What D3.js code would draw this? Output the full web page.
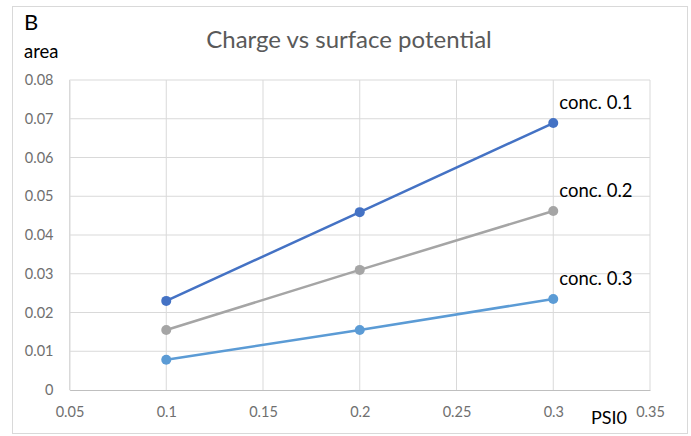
<!DOCTYPE html>
<html><head><meta charset="utf-8">
<script src="https://cdn.jsdelivr.net/npm/d3@7"></script>
<style>body{margin:0;background:#fff}svg{display:block}text{font-family:Lato,"Open Sans",sans-serif}</style>
</head><body>
<script>
const xValues = [0.1, 0.2, 0.3];
const conc01 = [0.023, 0.0459, 0.0689];
const conc02 = [0.0155, 0.031, 0.0462];
const conc03 = [0.0078, 0.0155, 0.0235];
const seriesNames = ["conc. 0.1", "conc. 0.2", "conc. 0.3"];
const xTicks = [0.05, 0.1, 0.15, 0.2, 0.25, 0.3, 0.35];
const yTicks = [0, 0.01, 0.02, 0.03, 0.04, 0.05, 0.06, 0.07, 0.08];
const colors = ["#4472C4", "#A5A5A5", "#5B9BD5"];

const W = 691, H = 436;
const svg = d3.select("body").append("svg").attr("width", W).attr("height", H);
svg.append("rect").attr("x", 12.5).attr("y", 6.5).attr("width", 675).attr("height", 427)
  .attr("fill", "#fff").attr("stroke", "#d9d9d9");

const x = d3.scaleLinear().domain([0.05, 0.35]).range([69.5, 650]);
const y = d3.scaleLinear().domain([0, 0.08]).range([390, 80]);

// grid
svg.append("g").selectAll("line").data(yTicks.slice(1)).join("line")
  .attr("x1", x(0.05)).attr("x2", x(0.35)).attr("y1", d => y(d)).attr("y2", d => y(d))
  .attr("stroke", "#d9d9d9").attr("stroke-width", 1);
svg.append("g").selectAll("line").data(xTicks).join("line")
  .attr("x1", d => x(d)).attr("x2", d => x(d)).attr("y1", y(0)).attr("y2", y(0.08))
  .attr("stroke", "#d9d9d9").attr("stroke-width", 1);

// axes
const xAxis = svg.append("g").attr("transform", `translate(0,${y(0)})`)
  .call(d3.axisBottom(x).tickValues(xTicks).tickSize(0).tickPadding(17).tickFormat(d => String(+d.toFixed(2))));
const yAxis = svg.append("g").attr("transform", `translate(${x(0.05)},0)`)
  .call(d3.axisLeft(y).tickValues(yTicks).tickSize(0).tickPadding(16).tickFormat(d => String(+d.toFixed(2))));
[xAxis, yAxis].forEach(a => {
  a.selectAll("text").attr("fill", "#6f6f6f").attr("font-size", 14.5).style("font-family", "Lato,'Open Sans',sans-serif");
});
xAxis.select(".domain").attr("stroke", "#bfbfbf");
yAxis.select(".domain").attr("stroke", "#d9d9d9");

const all = [conc01, conc02, conc03];
const line = d3.line().x((d, i) => x(xValues[i])).y(d => y(d));
all.forEach((s, k) => {
  svg.append("path").datum(s).attr("d", line).attr("fill", "none")
    .attr("stroke", colors[k]).attr("stroke-width", 2.5);
  svg.append("g").selectAll("circle").data(s).join("circle")
    .attr("cx", (d, i) => x(xValues[i])).attr("cy", d => y(d)).attr("r", 5)
    .attr("fill", colors[k]);
  svg.append("text").attr("x", x(0.3) + 6).attr("y", y(s[2]) - 14)
    .attr("font-size", 18.5).attr("fill", "#000").text(seriesNames[k]);
});

svg.append("text").attr("x", 349).attr("y", 48).attr("text-anchor", "middle")
  .attr("font-size", 24).attr("fill", "#595959").text("Charge vs surface potential");
svg.append("text").attr("x", 24).attr("y", 30).attr("font-size", 22).attr("fill", "#000").text("B");
svg.append("text").attr("x", 24).attr("y", 58).attr("font-size", 18.5).attr("fill", "#000").text("area");
svg.append("text").attr("x", 591).attr("y", 424).attr("font-size", 18).attr("fill", "#000").text("PSI0");
</script>
</body></html>
